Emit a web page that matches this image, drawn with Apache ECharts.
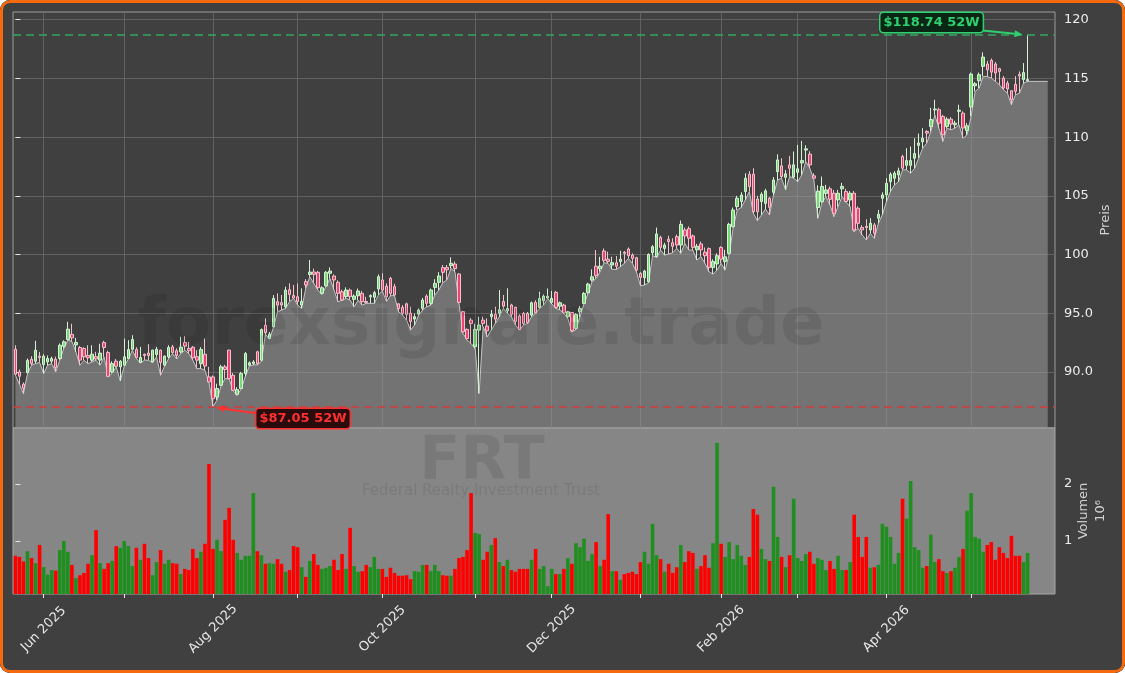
<!DOCTYPE html>
<html>
<head>
<meta charset="utf-8">
<script src="https://cdn.jsdelivr.net/npm/echarts@6/dist/echarts.min.js"></script>
<style>
  html, body { margin: 0; padding: 0; background: #ffffff; }
  #wrap { position: relative; width: 1125px; height: 673px; border-radius: 10px; overflow: hidden; background: #404040; }
  #chart { position: absolute; left: 0; top: 0; width: 1125px; height: 673px; }
  #frame { position: absolute; left: 0; top: 0; width: 1125px; height: 673px; box-sizing: border-box;
           border: 3px solid #f5690f; border-radius: 10px; pointer-events: none; }
</style>
</head>
<body>
<div id="wrap"><div id="chart"></div><div id="frame"></div></div>
<script>
// FRT daily candles, trading-day index 0 = 21 May 2025
const openP = [
  91.93, 90.00, 88.95, 89.94, 91.08, 90.91, 91.34, 90.62, 90.85, 90.91,
  91.08, 91.14, 92.19, 92.76, 93.20, 92.30, 92.08, 91.99, 91.40, 90.99,
  91.30, 91.00, 92.50, 91.65, 90.00, 90.91, 90.43, 90.57, 91.14, 91.93,
  91.90, 90.80, 91.50, 91.60, 90.85, 91.48, 91.85, 90.57, 91.28, 92.13,
  91.80, 91.70, 92.50, 92.00, 92.10, 91.30, 90.70, 91.50, 89.57, 89.57,
  87.87, 88.86, 90.43, 91.85, 89.71, 88.09, 88.58, 89.86, 90.57, 90.71,
  91.71, 90.99, 93.98, 92.84, 93.84, 95.98, 95.90, 95.55, 97.00, 96.50,
  96.40, 95.70, 97.69, 98.30, 98.51, 98.48, 96.69, 97.32, 98.40, 98.17,
  97.63, 96.83, 96.41, 96.97, 96.18, 96.49, 96.69, 96.00, 96.40, 96.35,
  97.06, 97.83, 97.30, 97.97, 97.26, 95.80, 95.50, 95.80, 95.00, 94.50,
  94.93, 95.41, 96.46, 95.84, 97.20, 97.63, 98.88, 98.90, 99.05, 99.19,
  98.34, 95.13, 93.62, 94.41, 92.14, 93.56, 94.41, 93.90, 94.70, 94.90,
  95.00, 96.00, 95.20, 95.70, 95.50, 94.76, 94.98, 94.98, 94.84, 95.92,
  95.49, 96.06, 96.30, 95.92, 96.77, 95.60, 95.69, 94.69, 95.06, 93.70,
  95.12, 95.83, 96.74, 97.82, 99.00, 98.80, 100.30, 99.60, 99.10, 99.30,
  99.40, 100.20, 100.47, 99.95, 99.73, 98.39, 98.02, 97.68, 100.15, 99.81,
  101.46, 100.52, 101.30, 101.00, 101.52, 100.81, 102.09, 102.20, 101.58, 100.40,
  100.90, 100.20, 100.50, 98.90, 99.20, 100.60, 99.40, 100.10, 102.37, 104.08,
  104.51, 105.36, 106.84, 106.84, 104.73, 104.51, 104.36, 104.79, 105.30, 107.06,
  107.55, 106.58, 107.63, 106.59, 107.00, 107.80, 108.90, 108.55, 106.70, 104.00,
  104.50, 105.20, 105.60, 105.22, 104.65, 105.60, 105.36, 104.65, 105.22, 103.94,
  102.30, 102.40, 102.09, 102.52, 103.09, 104.79, 105.08, 106.21, 106.50, 106.78,
  108.35, 107.60, 107.60, 108.20, 109.30, 109.60, 110.48, 110.90, 112.33, 112.33,
  111.76, 110.91, 111.53, 111.05, 112.20, 112.04, 110.57, 112.56, 114.38, 114.80,
  116.03, 116.23, 116.54, 116.23, 115.83, 115.03, 114.60, 113.95, 114.50, 115.35,
  114.90, 114.80
];
const highP = [
  92.27, 90.20, 89.10, 91.14, 91.34, 92.65, 91.70, 91.50, 91.40, 91.30,
  91.30, 92.42, 92.70, 94.27, 94.10, 92.90, 92.20, 92.10, 92.27, 92.27,
  91.71, 92.40, 92.65, 91.80, 90.90, 91.10, 91.00, 92.84, 92.70, 93.13,
  92.10, 92.13, 91.56, 92.36, 91.90, 92.13, 91.90, 91.40, 92.27, 92.30,
  92.00, 92.99, 93.04, 92.56, 92.20, 91.85, 92.10, 92.84, 90.43, 89.70,
  89.00, 90.60, 90.60, 91.90, 89.90, 88.70, 90.00, 91.70, 90.90, 91.00,
  91.80, 93.70, 94.55, 93.40, 96.54, 96.69, 96.55, 97.26, 97.54, 97.40,
  97.54, 97.12, 97.90, 99.53, 98.80, 98.60, 97.30, 98.60, 98.90, 98.30,
  97.80, 97.00, 97.20, 97.10, 96.60, 97.10, 96.90, 96.40, 96.60, 96.90,
  98.30, 98.40, 97.54, 98.10, 97.50, 95.84, 95.69, 95.90, 95.55, 94.98,
  95.40, 96.30, 96.60, 97.10, 97.90, 98.50, 99.10, 99.11, 99.76, 99.40,
  98.40, 95.20, 93.70, 94.60, 94.10, 94.70, 94.70, 94.56, 95.27, 95.55,
  96.97, 96.55, 97.12, 95.80, 95.55, 94.90, 95.10, 95.10, 96.00, 96.10,
  96.83, 96.60, 97.11, 96.90, 96.90, 96.00, 95.80, 95.20, 95.10, 95.00,
  95.60, 96.80, 97.60, 98.73, 100.38, 99.81, 100.52, 100.24, 99.81, 99.87,
  100.32, 100.30, 100.60, 100.10, 99.80, 98.50, 98.70, 100.10, 100.80, 102.30,
  101.60, 101.00, 101.60, 101.38, 101.70, 102.90, 102.30, 102.40, 101.70, 100.90,
  101.10, 100.60, 100.60, 99.60, 100.10, 100.70, 100.40, 102.70, 104.00, 105.00,
  105.30, 106.92, 107.10, 107.35, 105.00, 105.30, 105.60, 104.90, 106.60, 108.54,
  108.20, 107.20, 108.40, 108.77, 109.34, 109.68, 109.30, 108.80, 106.93, 105.90,
  106.64, 105.93, 105.79, 105.50, 105.50, 106.10, 105.60, 105.40, 105.40, 104.10,
  102.50, 103.00, 103.10, 102.70, 103.80, 105.30, 106.50, 107.00, 107.10, 107.40,
  108.50, 109.06, 109.20, 109.91, 110.30, 110.77, 110.60, 112.50, 113.18, 112.50,
  111.90, 111.70, 111.70, 111.40, 112.76, 112.20, 111.20, 115.50, 114.70, 115.50,
  117.22, 116.50, 116.70, 116.40, 115.90, 115.20, 114.80, 114.00, 115.20, 115.60,
  116.31, 118.74
];
const lowP = [
  89.71, 88.95, 88.15, 89.86, 90.57, 90.71, 90.80, 89.86, 90.57, 90.71,
  90.00, 91.00, 91.99, 92.70, 92.60, 91.70, 90.57, 90.99, 90.71, 90.85,
  90.99, 90.57, 91.28, 89.57, 89.90, 90.43, 89.23, 90.50, 91.10, 91.85,
  91.14, 90.75, 91.00, 90.99, 90.80, 91.28, 89.71, 90.50, 91.14, 91.56,
  91.10, 91.56, 91.85, 91.56, 90.99, 90.28, 90.28, 90.14, 89.10, 87.05,
  87.60, 88.80, 89.43, 89.40, 88.40, 88.00, 88.55, 89.60, 90.50, 90.60,
  90.60, 90.90, 93.20, 92.80, 93.80, 95.13, 95.27, 95.41, 96.00, 96.26,
  95.69, 95.41, 97.12, 98.11, 97.54, 96.97, 96.60, 97.26, 97.97, 96.97,
  95.98, 96.10, 96.26, 96.12, 95.55, 96.12, 95.69, 95.84, 95.84, 95.84,
  96.55, 96.90, 95.98, 96.49, 96.50, 95.13, 94.84, 94.41, 93.56, 93.99,
  94.84, 95.27, 95.55, 95.69, 96.55, 96.97, 97.60, 97.83, 98.82, 98.54,
  95.84, 93.28, 92.71, 92.42, 92.00, 88.16, 93.85, 92.99, 93.56, 94.13,
  94.70, 95.41, 94.98, 94.70, 93.99, 93.56, 93.99, 94.13, 94.70, 95.00,
  95.40, 95.69, 96.26, 95.80, 95.40, 95.30, 94.98, 94.55, 93.41, 93.60,
  94.69, 95.80, 96.68, 97.68, 97.96, 98.53, 99.30, 99.24, 98.73, 98.73,
  98.96, 99.24, 99.67, 99.24, 98.53, 97.34, 97.40, 97.60, 99.90, 99.75,
  100.38, 99.95, 100.04, 100.15, 100.52, 100.10, 100.95, 100.38, 100.38, 99.53,
  99.81, 99.24, 98.53, 98.33, 98.67, 99.24, 98.67, 100.00, 102.30, 103.79,
  104.02, 104.65, 105.36, 103.51, 102.88, 103.37, 103.88, 103.37, 105.07, 106.35,
  106.50, 105.50, 106.64, 106.50, 106.21, 106.78, 107.92, 107.35, 106.40, 103.09,
  104.40, 104.93, 104.22, 103.23, 104.08, 104.93, 104.45, 104.08, 101.95, 102.23,
  101.66, 101.24, 101.81, 101.38, 102.66, 103.40, 104.51, 105.36, 105.93, 106.21,
  107.21, 107.21, 106.93, 107.35, 108.21, 109.06, 109.49, 110.48, 111.90, 110.77,
  109.63, 110.77, 110.62, 110.77, 111.05, 109.91, 110.20, 111.76, 113.89, 114.18,
  115.17, 115.17, 115.03, 114.75, 114.46, 114.04, 113.75, 112.76, 113.61, 113.75,
  114.60, 114.75
];
const closeP = [
  89.80, 89.63, 88.61, 90.99, 90.71, 91.85, 91.22, 91.34, 91.14, 91.14,
  90.37, 92.27, 92.56, 93.64, 92.90, 92.50, 91.00, 91.28, 91.20, 91.51,
  91.10, 91.60, 92.08, 89.63, 90.71, 90.48, 90.91, 91.28, 91.90, 92.76,
  91.22, 91.22, 91.40, 91.40, 91.85, 91.93, 90.80, 91.34, 92.08, 91.65,
  91.40, 92.10, 92.20, 91.80, 91.20, 91.00, 91.90, 90.50, 89.14, 87.72,
  88.58, 90.43, 90.20, 89.43, 88.43, 88.49, 89.86, 91.56, 90.77, 90.85,
  90.71, 93.61, 93.33, 93.21, 96.26, 95.69, 95.70, 96.97, 96.60, 96.30,
  96.00, 96.00, 97.40, 98.50, 98.31, 97.17, 97.17, 98.48, 98.59, 97.83,
  96.69, 96.12, 96.97, 96.41, 96.46, 96.89, 95.98, 95.90, 96.50, 96.75,
  98.11, 96.97, 96.40, 96.69, 96.55, 95.40, 95.00, 94.90, 94.30, 94.70,
  95.27, 96.12, 95.84, 96.97, 97.54, 98.17, 98.48, 98.70, 99.25, 98.79,
  95.92, 93.42, 92.85, 94.13, 93.62, 93.99, 94.13, 93.50, 94.90, 94.50,
  95.30, 95.60, 95.40, 94.90, 94.30, 93.62, 94.13, 94.19, 95.89, 95.03,
  96.26, 96.46, 96.45, 96.26, 95.49, 95.89, 95.03, 95.12, 93.50, 94.89,
  95.40, 96.68, 97.48, 98.10, 98.20, 99.00, 99.50, 99.40, 99.30, 99.00,
  99.60, 100.10, 99.90, 99.67, 98.67, 98.05, 98.59, 100.01, 100.67, 101.75,
  100.61, 100.81, 101.10, 100.70, 100.81, 102.57, 101.58, 101.38, 100.61, 100.70,
  100.40, 99.90, 98.90, 99.40, 99.90, 99.60, 99.80, 102.57, 103.79, 104.79,
  105.07, 106.50, 105.79, 103.65, 103.65, 105.13, 105.42, 104.02, 106.35, 108.06,
  106.64, 106.87, 107.35, 107.64, 107.30, 108.00, 109.00, 107.64, 106.50, 105.40,
  105.80, 105.50, 104.70, 103.51, 105.22, 105.80, 104.51, 105.22, 102.09, 102.66,
  102.10, 102.30, 102.66, 101.81, 103.43, 105.08, 106.07, 106.84, 106.93, 107.13,
  107.35, 108.00, 108.00, 108.60, 109.50, 109.90, 110.34, 111.50, 112.39, 111.19,
  110.20, 111.53, 111.11, 111.19, 112.30, 110.77, 110.96, 115.37, 114.55, 115.32,
  116.82, 115.74, 115.54, 115.46, 115.60, 114.18, 114.10, 113.18, 113.90, 115.20,
  115.50, 114.90
];
// volume in millions of shares
const volM = [
  0.74, 0.72, 0.64, 0.82, 0.70, 0.61, 0.93, 0.54, 0.41, 0.49,
  0.48, 0.84, 1.00, 0.81, 0.58, 0.35, 0.40, 0.44, 0.60, 0.75,
  1.19, 0.61, 0.51, 0.61, 0.65, 0.91, 0.88, 1.00, 0.91, 0.56,
  0.88, 0.67, 0.95, 0.70, 0.40, 0.63, 0.84, 0.60, 0.67, 0.61,
  0.60, 0.42, 0.51, 0.49, 0.86, 0.70, 0.81, 0.95, 2.35, 0.86,
  1.02, 0.82, 1.37, 1.58, 1.02, 0.79, 0.67, 0.74, 0.74, 1.84,
  0.82, 0.75, 0.60, 0.61, 0.60, 0.68, 0.60, 0.46, 0.49, 0.91,
  0.89, 0.54, 0.37, 0.65, 0.77, 0.58, 0.51, 0.53, 0.56, 0.67,
  0.49, 0.77, 0.51, 1.23, 0.56, 0.46, 0.47, 0.58, 0.54, 0.72,
  0.51, 0.51, 0.37, 0.53, 0.44, 0.39, 0.39, 0.40, 0.33, 0.47,
  0.46, 0.58, 0.58, 0.47, 0.58, 0.47, 0.40, 0.39, 0.39, 0.51,
  0.70, 0.72, 0.84, 1.84, 1.14, 1.12, 0.67, 0.81, 0.93, 1.05,
  0.63, 0.56, 0.67, 0.49, 0.46, 0.51, 0.51, 0.51, 0.67, 0.86,
  0.51, 0.56, 0.21, 0.51, 0.42, 0.42, 0.51, 0.70, 0.60, 0.96,
  0.89, 1.04, 0.65, 0.77, 0.98, 0.56, 0.67, 1.47, 0.47, 0.47,
  0.32, 0.42, 0.44, 0.46, 0.42, 0.63, 0.81, 0.60, 1.30, 0.75,
  0.68, 0.46, 0.60, 0.44, 0.54, 0.93, 0.63, 0.82, 0.79, 0.51,
  0.56, 0.75, 0.53, 0.96, 2.72, 0.95, 0.72, 0.98, 0.68, 0.93,
  0.74, 0.58, 0.72, 1.56, 1.46, 0.86, 0.68, 0.65, 1.95, 1.07,
  0.72, 0.54, 0.75, 1.74, 0.70, 0.65, 0.77, 0.81, 0.60, 0.70,
  0.67, 0.49, 0.65, 0.51, 0.74, 0.49, 0.49, 0.63, 1.46, 1.07,
  0.72, 1.07, 0.53, 0.54, 0.58, 1.30, 1.25, 1.07, 0.60, 0.79,
  1.74, 1.39, 2.05, 0.89, 0.84, 0.53, 0.56, 1.11, 0.63, 0.68,
  0.47, 0.44, 0.47, 0.53, 0.72, 0.86, 1.53, 1.84, 1.07, 1.04,
  0.81, 0.93, 0.98, 0.67, 0.89, 0.79, 0.70, 1.09, 0.74, 0.74,
  0.63, 0.79
];
// first trading day of each month (index) and its label
const monthIdx = [7, 27, 49, 70, 91, 114, 133, 155, 175, 194, 216, 237];
const monthLbl = ['Jun 2025', 'Jul 2025', 'Aug 2025', 'Sep 2025', 'Oct 2025', 'Nov 2025',
                  'Dec 2025', 'Jan 2026', 'Feb 2026', 'Mar 2026', 'Apr 2026', 'May 2026'];
const priceTicks = [90, 95, 100, 105, 110, 115, 120];
const volTicks = [1, 2];

const FONT = 'DejaVu Sans';
const UP = '#1f8f1f', DOWN = '#ff0000';
const fillPadDays = 5;   // grey fill runs a little past the last candle

const candles = openP.map((o, i) => [i, o, closeP[i], lowP[i], highP[i]]);
const fill = lowP.map((v, i) => [i, v]);
fill.push([lowP.length - 1 + fillPadDays, lowP[lowP.length - 1]]);
const vols = volM.map((v, i) => ({
  value: [i, v],
  itemStyle: { color: closeP[i] >= openP[i] ? UP : DOWN }
}));
const labelIdx = monthIdx.filter((d, k) => k % 2 === 0);

const hiVal = Math.max(...highP), hiIdx = highP.indexOf(hiVal);
const loVal = Math.min(...lowP), loIdx = lowP.indexOf(loVal);

const xBase = { type: 'value', min: -0.6, max: 257.8 };

const chart = echarts.init(document.getElementById('chart'));
chart.setOption({
  animation: false,
  backgroundColor: '#404040',
  grid: [
    { left: 13, right: 70, top: 12, height: 416, show: true, backgroundColor: '#404040', borderColor: '#9c9c9c', borderWidth: 1 },
    { left: 13, right: 70, top: 428, height: 166, show: true, backgroundColor: '#868686', borderColor: '#a8a8a8', borderWidth: 1 }
  ],
  xAxis: [
    Object.assign({}, xBase, {
      gridIndex: 0,
      axisLine: { show: false },
      axisTick: { show: false, customValues: monthIdx },
      axisLabel: { show: false },
      splitLine: { show: true, lineStyle: { color: '#626262', width: 1 } }
    }),
    Object.assign({}, xBase, {
      gridIndex: 1,
      axisLine: { show: false },
      axisTick: { show: true, customValues: monthIdx, length: 4, lineStyle: { color: '#e6e6e6' } },
      axisLabel: {
        customValues: labelIdx, rotate: 45, margin: 35, align: 'center', verticalAlign: 'middle',
        color: '#e6e6e6', fontSize: 13, fontFamily: FONT,
        formatter: v => monthLbl[monthIdx.indexOf(Math.round(v))] || ''
      },
      splitLine: { show: false }
    })
  ],
  yAxis: [
    {
      gridIndex: 0, type: 'value', position: 'right', min: 85.22, max: 120.66,
      axisLine: { show: false },
      axisTick: { show: true, customValues: priceTicks, length: 5, lineStyle: { color: '#e6e6e6' } },
      axisLabel: {
        customValues: priceTicks, margin: 9, color: '#ececec', fontSize: 13, fontFamily: FONT,
        formatter: v => v >= 100 ? v.toFixed(0) : v.toFixed(1)
      },
      splitLine: { show: true, lineStyle: { color: '#626262', width: 1 } },
      name: 'Preis', nameLocation: 'middle', nameGap: 44, nameRotate: 90, nameMoveOverlap: false,
      nameTextStyle: { color: '#d2d2d2', fontSize: 13, fontFamily: FONT }
    },
    {
      gridIndex: 1, type: 'value', position: 'right', min: 0.07, max: 2.98,
      axisLine: { show: false },
      axisTick: { show: true, customValues: volTicks, length: 5, lineStyle: { color: '#e6e6e6' } },
      axisLabel: { customValues: volTicks, margin: 9, color: '#ececec', fontSize: 13, fontFamily: FONT },
      splitLine: { show: false },
      name: 'Volumen\n10⁶', nameLocation: 'middle', nameGap: 20, nameRotate: 90, nameMoveOverlap: false,
      nameTextStyle: { color: '#d2d2d2', fontSize: 13, lineHeight: 17, fontFamily: FONT }
    }
  ],
  series: [
    {
      type: 'line', xAxisIndex: 0, yAxisIndex: 0, data: fill, symbol: 'none', z: 1,
      lineStyle: { color: '#c4c4c4', width: 1 },
      areaStyle: { color: 'rgba(154,154,154,0.82)', origin: 'start' }
    },
    {
      type: 'candlestick', xAxisIndex: 0, yAxisIndex: 0, data: candles, z: 3,
      encode: { x: 0, y: [1, 2, 3, 4] },
      barWidth: 3,
      itemStyle: { color: '#78d878', color0: '#e8456f', borderColor: '#d4f2d4', borderColor0: '#f4c2cf', borderWidth: 1 },
      markLine: {
        silent: true, symbol: 'none', label: { show: false },
        data: [
          { yAxis: hiVal, lineStyle: { color: '#33a85c', type: [8, 5], width: 1.5 } },
          { yAxis: loVal, lineStyle: { color: '#d23c3c', type: [8, 5], width: 1.5 } }
        ]
      }
    },
    {
      type: 'bar', xAxisIndex: 1, yAxisIndex: 1, data: vols, barWidth: 3.6, z: 2
    }
  ]
});

// 52-week high / low callouts, placed from the data point through the axes
const hiPt = chart.convertToPixel({ xAxisIndex: 0, yAxisIndex: 0 }, [hiIdx, hiVal]);
const loPt = chart.convertToPixel({ xAxisIndex: 0, yAxisIndex: 0 }, [loIdx, loVal]);

function arrow(x1, y1, x2, y2, color) {
  const a = Math.atan2(y2 - y1, x2 - x1), L = 8, W = 3.5;
  const bx = x2 - L * Math.cos(a), by = y2 - L * Math.sin(a);
  return [
    { type: 'line', z: 20, shape: { x1: x1, y1: y1, x2: bx, y2: by }, style: { stroke: color, lineWidth: 2 } },
    { type: 'polygon', z: 20, shape: { points: [[x2, y2],
        [bx + W * Math.sin(a), by - W * Math.cos(a)], [bx - W * Math.sin(a), by + W * Math.cos(a)]] },
      style: { fill: color } }
  ];
}

function callout(cx, cy, text, fg, bg) {
  return {
    type: 'text', z: 21, x: cx, y: cy,
    style: {
      text: text, fill: fg, font: 'bold 13px "DejaVu Sans"', align: 'center', verticalAlign: 'middle',
      backgroundColor: bg, borderColor: fg, borderWidth: 1.5, borderRadius: 3, padding: [3, 3]
    }
  };
}

const wm = 'rgba(0,0,0,0.09)';
chart.setOption({
  graphic: [
    { type: 'text', z: 10, x: 481, y: 327, silent: true,
      style: { text: 'forexsignale.trade', fill: wm, font: 'bold 66px "DejaVu Sans"', align: 'center', verticalAlign: 'middle' } },
    { type: 'text', z: 10, x: 482, y: 463, silent: true,
      style: { text: 'FRT', fill: wm, font: 'bold 60px "DejaVu Sans"', align: 'center', verticalAlign: 'middle' } },
    { type: 'text', z: 10, x: 481, y: 491, silent: true,
      style: { text: 'Federal Realty Investment Trust', fill: wm, font: '15px "DejaVu Sans"', align: 'center', verticalAlign: 'middle' } },
    callout(hiPt[0] - 96, hiPt[1] - 12, '$' + hiVal.toFixed(2) + ' 52W', '#2fd070', '#0a2614'),
    ...arrow(hiPt[0] - 45, hiPt[1] - 4, hiPt[0] - 5, hiPt[1], '#2fd070'),
    callout(loPt[0] + 90, loPt[1] + 12, '$' + loVal.toFixed(2) + ' 52W', '#ff3030', '#2a0c0c'),
    ...arrow(loPt[0] + 45, loPt[1] + 7, loPt[0] + 3, loPt[1] + 1, '#ff3030')
  ]
});
</script>
</body>
</html>
